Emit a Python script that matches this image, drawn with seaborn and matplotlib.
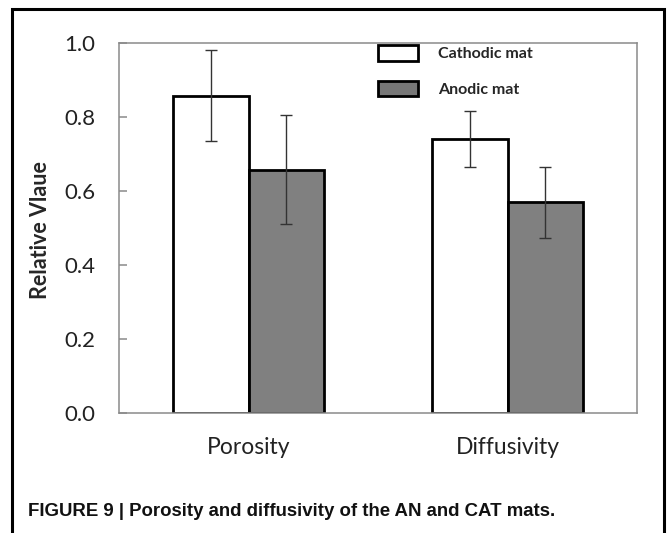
import matplotlib
matplotlib.use("Agg")
import matplotlib.pyplot as plt
import matplotlib.patches as mpatches
import seaborn as sns
import pandas as pd
import numpy as np

# ---- data ----
categories = ["Porosity", "Diffusivity"]
series = ["Cathodic mat", "Anodic mat"]
cathodic_vals = [0.857, 0.740]
anodic_vals = [0.658, 0.569]
cathodic_err = [0.123, 0.076]
anodic_err = [0.148, 0.096]
y_ticks = [0.0, 0.2, 0.4, 0.6, 0.8, 1.0]
y_label = "Relative Vlaue"
caption = "FIGURE 9 | Porosity and diffusivity of the AN and CAT mats."

df = pd.DataFrame({
    "category": categories * 2,
    "series": [series[0]] * 2 + [series[1]] * 2,
    "value": cathodic_vals + anodic_vals,
    "err": cathodic_err + anodic_err,
})

sns.set_theme(style="white")
plt.rcParams["font.family"] = ["Lato", "DejaVu Sans"]

W, H = 671, 533
fig = plt.figure(figsize=(W / 100, H / 100), dpi=100)
ax = fig.add_axes([119 / W, 1 - 413 / H, (637 - 119) / W, (413 - 43) / H])

colors = ["#ffffff", "#808080"]
sns.barplot(data=df, x="category", y="value", hue="series", order=categories,
            hue_order=series, palette=colors, errorbar=None, width=0.58,
            edgecolor="black", linewidth=2.0, ax=ax, legend=False, saturation=1)

# error bars positioned from the bars drawn by seaborn
bars = [p for p in ax.patches if p.get_height() > 0]
bars_sorted = sorted(bars, key=lambda p: p.get_x())
errs = [cathodic_err[0], anodic_err[0], cathodic_err[1], anodic_err[1]]
for p, e in zip(bars_sorted, errs):
    xc = p.get_x() + p.get_width() / 2
    ax.errorbar(xc, p.get_height(), yerr=e, fmt="none", ecolor="#333333",
                elinewidth=1.0, capsize=4.5, capthick=1.0, zorder=5)

ax.set_xlim(-0.5, 1.5)
ax.set_ylim(0, 1.0)
ax.set_yticks(y_ticks)
ax.set_yticklabels([f"{t:.1f}" for t in y_ticks])
ax.set_xlabel("")
ax.set_ylabel(y_label, fontsize=15.5, fontweight="bold")
ax.yaxis.set_label_coords(-(119 - 51) / (637 - 119), 0.495)

for s in ax.spines.values():
    s.set_visible(True)
    s.set_color("#8a8a8a")
    s.set_linewidth(1.1)

ax.tick_params(axis="y", direction="in", length=6, width=1.1, color="#8a8a8a",
               labelsize=16, pad=17, labelcolor="#222222", left=True)
ax.tick_params(axis="x", length=0, labelsize=16.5, pad=17, labelcolor="#222222")

# legend
handles = [mpatches.Patch(facecolor=colors[0], edgecolor="black", linewidth=2.0, label=series[0]),
           mpatches.Patch(facecolor="#777777", edgecolor="black", linewidth=2.0, label=series[1])]
fig.legend(handles=handles, loc="upper left", bbox_to_anchor=(378 / W, 1 - 45 / H),
           frameon=False, prop={"weight": "bold", "size": 11.5, "family": ["Lato", "DejaVu Sans"]},
           handlelength=2.5, handleheight=1.15, handletextpad=1.25, labelspacing=1.2,
           borderpad=0, borderaxespad=0)

# caption
fig.text(28 / W, 1 - 512 / H, caption, fontsize=13.4, fontweight="bold",
         family=["Liberation Sans Narrow", "Liberation Sans", "DejaVu Sans"],
         va="center", ha="left", color="#111111")

# outer frame
frame = mpatches.Rectangle((12 / W, -0.05), (664 - 12) / W, 1.05 - 9 / H,
                           transform=fig.transFigure, fill=False,
                           edgecolor="black", linewidth=2.2)
fig.add_artist(frame)

fig.savefig("out.png", dpi=100)
